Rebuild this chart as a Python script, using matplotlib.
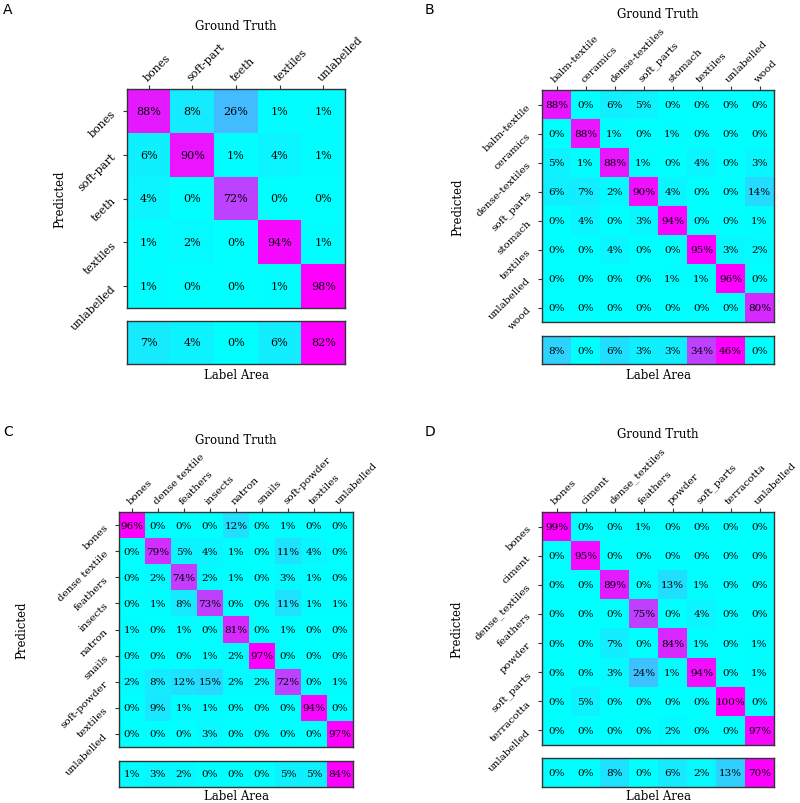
import matplotlib
matplotlib.use('Agg')
import matplotlib.pyplot as plt
import numpy as np

# Panel A
classes_a = ['bones', 'soft-part', 'teeth', 'textiles', 'unlabelled']
conf_a = [
    [88, 8, 26, 1, 1],
    [6, 90, 1, 4, 1],
    [4, 0, 72, 0, 0],
    [1, 2, 0, 94, 1],
    [1, 0, 0, 1, 98],
]
area_a = [7, 4, 0, 6, 82]

# Panel B
classes_b = ['balm-textile', 'ceramics', 'dense-textiles', 'soft_parts',
             'stomach', 'textiles', 'unlabelled', 'wood']
conf_b = [
    [88, 0, 6, 5, 0, 0, 0, 0],
    [0, 88, 1, 0, 1, 0, 0, 0],
    [5, 1, 88, 1, 0, 4, 0, 3],
    [6, 7, 2, 90, 4, 0, 0, 14],
    [0, 4, 0, 3, 94, 0, 0, 1],
    [0, 0, 4, 0, 0, 95, 3, 2],
    [0, 0, 0, 0, 1, 1, 96, 0],
    [0, 0, 0, 0, 0, 0, 0, 80],
]
area_b = [8, 0, 6, 3, 3, 34, 46, 0]

# Panel C
classes_c = ['bones', 'dense textile', 'feathers', 'insects', 'natron',
             'snails', 'soft-powder', 'textiles', 'unlabelled']
conf_c = [
    [96, 0, 0, 0, 12, 0, 1, 0, 0],
    [0, 79, 5, 4, 1, 0, 11, 4, 0],
    [0, 2, 74, 2, 1, 0, 3, 1, 0],
    [0, 1, 8, 73, 0, 0, 11, 1, 1],
    [1, 0, 1, 0, 81, 0, 1, 0, 0],
    [0, 0, 0, 1, 2, 97, 0, 0, 0],
    [2, 8, 12, 15, 2, 2, 72, 0, 1],
    [0, 9, 1, 1, 0, 0, 0, 94, 0],
    [0, 0, 0, 3, 0, 0, 0, 0, 97],
]
area_c = [1, 3, 2, 0, 0, 0, 5, 5, 84]

# Panel D
classes_d = ['bones', 'ciment', 'dense_textiles', 'feathers', 'powder',
             'soft_parts', 'terracotta', 'unlabelled']
conf_d = [
    [99, 0, 0, 1, 0, 0, 0, 0],
    [0, 95, 0, 0, 0, 0, 0, 0],
    [0, 0, 89, 0, 13, 1, 0, 0],
    [0, 0, 0, 75, 0, 4, 0, 0],
    [0, 0, 7, 0, 84, 1, 0, 1],
    [0, 0, 3, 24, 1, 94, 0, 1],
    [0, 5, 0, 0, 0, 0, 100, 0],
    [0, 0, 0, 0, 2, 0, 0, 97],
]
area_d = [0, 0, 8, 0, 6, 2, 13, 70]

W, H = 800, 804
fig = plt.figure(figsize=(W / 100, H / 100), dpi=100)
serif = 'DejaVu Serif'
LFS = 8.5  # axis label size


def px_axes(x0, y0, x1, y1):
    # pixel box (top-left origin) -> figure axes
    return fig.add_axes([x0 / W, 1 - y1 / H, (x1 - x0) / W, (y1 - y0) / H])


def panel(letter, lx, ly, classes, conf, area, box, abox, fs, title_y, pred_x, area_y):
    conf = np.array(conf, dtype=float)
    area = np.array(area, dtype=float)
    n = len(classes)
    x0, y0, x1, y1 = box

    ax = px_axes(*box)
    ax.imshow(conf, cmap='cool', vmin=0, vmax=conf.max(), aspect='auto')
    for i in range(n):
        for j in range(n):
            ax.text(j, i, f"{int(conf[i, j])}%", ha='center', va='center',
                    fontsize=fs, family=serif)
    ax.set_xticks(range(n))
    ax.set_yticks(range(n))
    ax.xaxis.tick_top()
    ax.set_xticklabels(classes, rotation=45, ha='left', rotation_mode='anchor',
                       fontsize=fs, family=serif)
    ax.set_yticklabels(classes, rotation=45, ha='right', va='center',
                       rotation_mode='anchor', fontsize=fs, family=serif)
    ax.tick_params(length=3, width=0.8, color='#333333')
    ax.tick_params(axis='x', pad=2)
    ax.tick_params(axis='y', pad=6)
    for s in ax.spines.values():
        s.set_color('#333333')
        s.set_linewidth(1.0)

    # axis titles
    fig.text((x0 + x1) / 2 / W, 1 - title_y / H, 'Ground Truth', fontsize=LFS,
             family=serif, ha='center', va='center')
    fig.text(pred_x / W, 1 - (y0 + y1) / 2 / H, 'Predicted', fontsize=LFS,
             family=serif, ha='center', va='center', rotation=90)

    bx = px_axes(*abox)
    bx.imshow(area[None, :], cmap='cool', vmin=0, vmax=area.max(), aspect='auto')
    for j in range(n):
        bx.text(j, 0, f"{int(area[j])}%", ha='center', va='center',
                fontsize=fs, family=serif)
    bx.set_xticks([])
    bx.set_yticks([])
    for s in bx.spines.values():
        s.set_color('#333333')
        s.set_linewidth(1.0)
    fig.text((x0 + x1) / 2 / W, 1 - area_y / H, 'Label Area', fontsize=LFS,
             family=serif, ha='center', va='center')

    fig.text(lx / W, 1 - ly / H, letter, fontsize=10, family='DejaVu Sans',
             ha='left', va='top')


panel('A', 3, 3, classes_a, conf_a, area_a,
      (127, 90, 345, 309), (127, 322, 345, 365), 8, 27, 60, 376)
panel('B', 425, 3, classes_b, conf_b, area_b,
      (542, 91, 774, 323), (542, 337, 774, 365), 7.5, 14, 458, 376)
panel('C', 3, 425, classes_c, conf_c, area_c,
      (119, 513, 353, 748), (119, 762, 353, 788), 7.5, 441, 22, 797)
panel('D', 425, 425, classes_d, conf_d, area_d,
      (542, 513, 774, 746), (542, 759, 774, 788), 7.5, 435, 457, 797)

fig.savefig('out.png', dpi=100)
